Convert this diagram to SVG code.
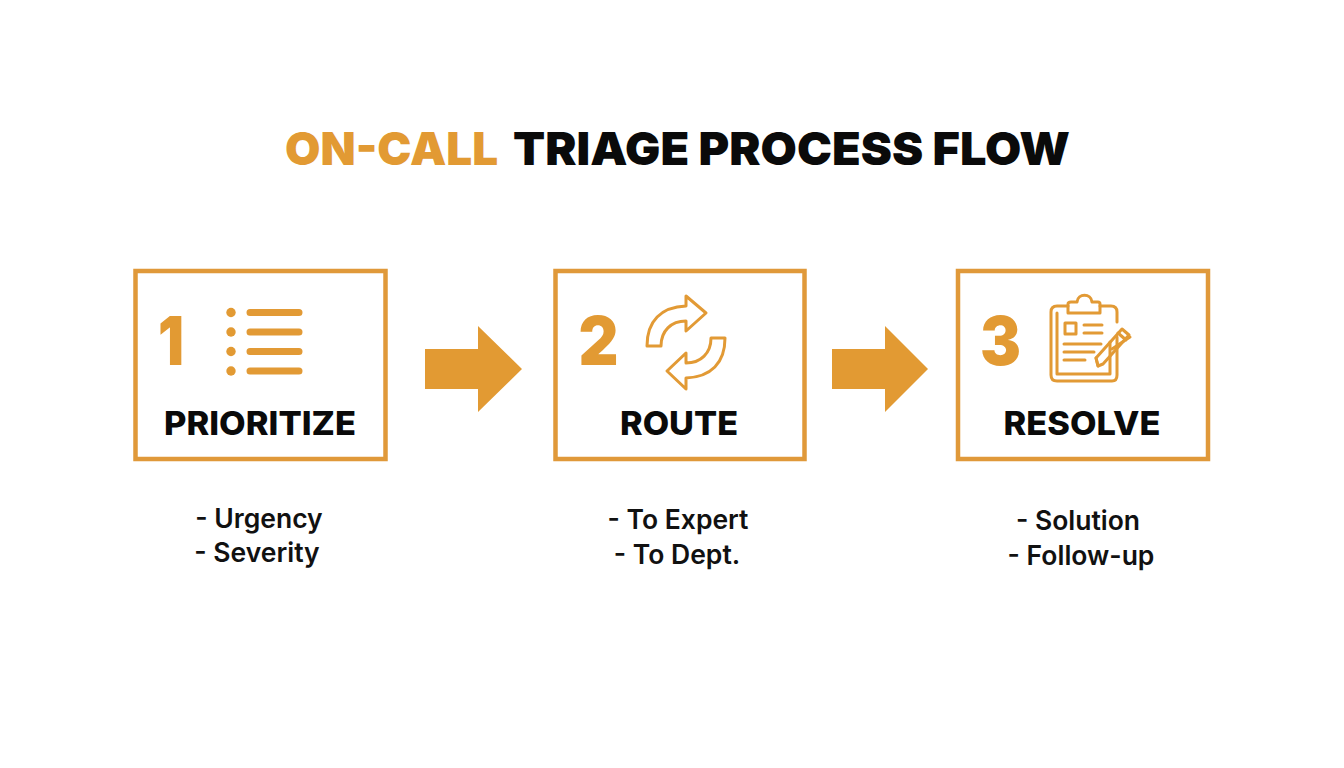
<svg xmlns="http://www.w3.org/2000/svg" width="1344" height="768" viewBox="0 0 1344 768">
<style>
.o{fill:#e29a33}
.box{fill:#fff;stroke:#e0993a;stroke-width:4.5}
.ln{fill:none;stroke:#e29a35;stroke-linecap:round;stroke-linejoin:round}
text{font-family:Inter,"Liberation Sans",sans-serif}
.t{font-size:46px;font-weight:900}
.lab{font-size:33px;font-weight:800;fill:#0a0a0a;text-anchor:middle}
.num{font-size:68px;font-weight:900;fill:#e29a33;text-anchor:middle}
.d{font-size:26.500px;font-weight:600;fill:#111;text-anchor:middle}
</style>
<rect width="1344" height="768" fill="#fff"/>
<g id="title">
<text class="t o" x="285" y="165" textLength="213" lengthAdjust="spacingAndGlyphs">ON-CALL</text>
<text class="t" fill="#0a0a0a" x="513" y="165" textLength="557" lengthAdjust="spacingAndGlyphs">TRIAGE PROCESS FLOW</text>
</g>
<g id="connectors">
<path class="o" d="M425 349H478V326L522 369L478 412V389H425Z"/>
<path class="o" d="M832 349H885V326L928 369L885 412V389H832Z"/>
</g>
<g id="node1">
<rect class="box" x="135.500" y="271" width="250" height="188"/>
<text class="num" x="171" y="365" textLength="26" lengthAdjust="spacingAndGlyphs">1</text>
<g class="o"><circle cx="231" cy="312.500" r="4.700"/><circle cx="231" cy="332" r="4.700"/><circle cx="231" cy="351.500" r="4.700"/><circle cx="231" cy="371" r="4.700"/></g>
<g class="ln" stroke-width="7"><path d="M250 312.500H299M250 332H299M250 351.500H299M250 371H299"/></g>
<text class="lab" x="260" y="435" textLength="192" lengthAdjust="spacingAndGlyphs">PRIORITIZE</text>
<text class="d" x="259" y="528">- Urgency</text>
<text class="d" x="257" y="562">- Severity</text>
</g>
<g id="node2">
<rect class="box" x="555.500" y="271" width="249" height="188"/>
<text class="num" x="598.500" y="365" textLength="40" lengthAdjust="spacingAndGlyphs">2</text>
<g class="ln" stroke-width="3">
<path d="M647 346C647 321 661 307 686 306V296L706 313L686 331V321C671 321 661 331 661 346Z"/>
<path d="M725 338C725 363 711 377 686 378V389L667 371L686 353V363C701 363 711 353 711 338Z"/>
</g>
<text class="lab" x="679" y="435" textLength="118" lengthAdjust="spacingAndGlyphs">ROUTE</text>
<text class="d" x="678" y="529">- To Expert</text>
<text class="d" x="677" y="564">- To Dept.</text>
</g>
<g id="node3">
<rect class="box" x="958" y="271" width="250" height="188"/>
<text class="num" x="1000.500" y="365" textLength="41" lengthAdjust="spacingAndGlyphs">3</text>
<g class="ln" stroke-width="3">
<path d="M1068 306H1057Q1051 306 1051 312V375Q1051 381 1057 381H1112Q1117 381 1117 375V337M1117 322V312Q1117 306 1111 306H1100"/>
<path d="M1057 313V374H1110V342"/>
<path d="M1068 313V304Q1068 302 1071 302H1077C1078 293 1091 293 1092 302H1098Q1100 302 1100 304V313Z"/>
<path d="M1065 323H1076V334H1065Z"/>
<path d="M1084 325H1102M1084 333H1102M1064 344H1101M1064 352H1094M1064 360H1085"/>
<path d="M1098 366L1096 358L1122 329L1129 335L1103 364Z"/>
<path d="M1098 366L1096 358M1118 333L1126 340M1130 337L1112 349"/>
</g>
<text class="lab" x="1082" y="435" textLength="157" lengthAdjust="spacingAndGlyphs">RESOLVE</text>
<text class="d" x="1078" y="530">- Solution</text>
<text class="d" x="1081" y="565">- Follow-up</text>
</g>
</svg>
